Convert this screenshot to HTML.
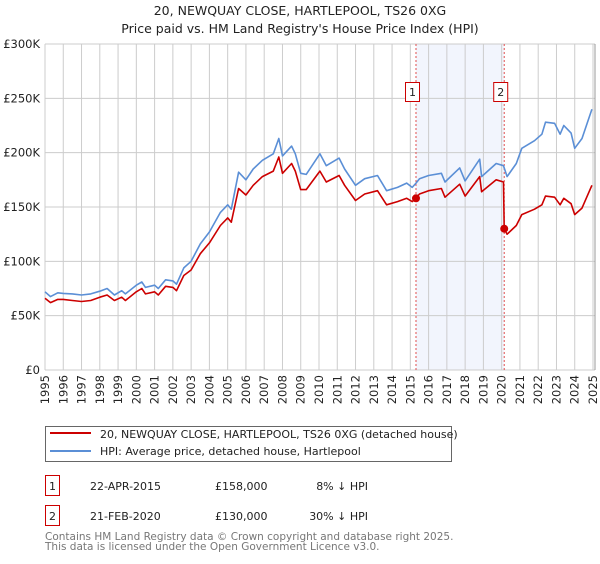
<!DOCTYPE html>
<html><head><meta charset="utf-8"><style>
body{margin:0;background:#fff;font-family:"DejaVu Sans","Liberation Sans",sans-serif;}
svg text{font-family:"DejaVu Sans","Liberation Sans",sans-serif;}
</style></head><body>
<svg id="chart" width="600" height="560" xmlns="http://www.w3.org/2000/svg">
<text x="300" y="15" text-anchor="middle" font-size="12.5" fill="#222">20, NEWQUAY CLOSE, HARTLEPOOL, TS26 0XG</text>
<text x="300" y="33" text-anchor="middle" font-size="12.5" fill="#222">Price paid vs. HM Land Registry's House Price Index (HPI)</text>
<g id="grid"></g><g id="series"></g><g id="axes"></g>
<g>
<rect x="45.5" y="426.5" width="406" height="35" fill="#fff" stroke="#666"/>
<line x1="50" y1="433" x2="91" y2="433" stroke="#cc0000" stroke-width="2"/>
<text x="100" y="438" font-size="11" fill="#222">20, NEWQUAY CLOSE, HARTLEPOOL, TS26 0XG (detached house)</text>
<line x1="50" y1="451" x2="91" y2="451" stroke="#5b8fd6" stroke-width="2"/>
<text x="100" y="455" font-size="11" fill="#222">HPI: Average price, detached house, Hartlepool</text>
</g>
<g font-size="11" fill="#222">
<rect x="45.5" y="475.5" width="14" height="20" fill="#fff" stroke="#cc0000"/>
<text x="52.5" y="490" text-anchor="middle">1</text>
<text x="90" y="490">22-APR-2015</text><text x="215" y="490">£158,000</text><text x="368" y="490" text-anchor="end">8% ↓ HPI</text>
<rect x="45.5" y="505.5" width="14" height="20" fill="#fff" stroke="#cc0000"/>
<text x="52.5" y="520" text-anchor="middle">2</text>
<text x="90" y="520">21-FEB-2020</text><text x="215" y="520">£130,000</text><text x="368" y="520" text-anchor="end">30% ↓ HPI</text>
</g>
<text x="45" y="540" font-size="10.5" fill="#777">Contains HM Land Registry data © Crown copyright and database right 2025.</text>
<text x="45" y="550" font-size="10.5" fill="#777">This data is licensed under the Open Government Licence v3.0.</text>
</svg>
<script>
const years=[1995,1995.3,1995.7,1996,1996.5,1997,1997.5,1998,1998.4,1998.8,1999.2,1999.4,2000,2000.3,2000.5,2001,2001.2,2001.6,2002,2002.2,2002.6,2003,2003.5,2004,2004.6,2005,2005.2,2005.6,2006,2006.4,2006.9,2007.5,2007.8,2008,2008.5,2008.7,2009,2009.3,2010.05,2010.4,2011.1,2011.4,2012,2012.5,2013.2,2013.7,2014.3,2014.8,2015.1,2015.3,2015.5,2016,2016.7,2016.9,2017.7,2018,2018.8,2018.9,2019.7,2020.1,2020.14,2020.3,2020.8,2021.1,2021.8,2022.2,2022.4,2022.9,2023.2,2023.4,2023.8,2024,2024.4,2024.94];
const hpiValues=[72,67.5,71,70.5,70,69,70,72.5,75,69,73,70,78,81,76,78,75,83,82,79,94,100,116,127,145,152,148,182,175,185,193,199,213,197,206,199,181,180,199,188,195,185,170,176,179,165,168,172,168,171.7,176,179,181,173,186,174,194,178,190,188,186,178,190,204,211,217,228,227,217,225,218,204,213,240];
const priceValues=[66,62,65,65,64,63,64,67,69,64,67,64,72,75,70,72,69,77,76,73,87,92,107,117,133,140,136,167,161,170,178,183,196,181,190,183,166,166,183,173,179,170,156,162,165,152,155,158,155,158,162,165,167,159,171,160,178,164,175,173,130,125,133,143,148,152,160,159,152,158,153,143,149,170];
const sales=[{n:"1",year:2015.31,value:158},{n:"2",year:2020.14,value:130}];
const yTicks=[0,50,100,150,200,250,300];
const yTickLabels=["£0","£50K","£100K","£150K","£200K","£250K","£300K"];
const xTicks=[1995,1996,1997,1998,1999,2000,2001,2002,2003,2004,2005,2006,2007,2008,2009,2010,2011,2012,2013,2014,2015,2016,2017,2018,2019,2020,2021,2022,2023,2024,2025];
const X0=45,X1=593,Y0=370,Y1=44;
function xs(y){return X0+(y-1995)/30*(X1-X0);}
function ys(v){return Y0-v/300*(Y0-Y1);}
const NS="http://www.w3.org/2000/svg";
function mk(tag,parent,attrs){const e=document.createElementNS(NS,tag);for(const k in attrs)e.setAttribute(k,attrs[k]);parent.appendChild(e);return e;}
const grid=document.getElementById('grid'),ser=document.getElementById('series'),ax=document.getElementById('axes');
const shade=mk('rect',grid,{x:xs(sales[0].year),y:Y1,width:xs(sales[1].year)-xs(sales[0].year),height:Y0-Y1,fill:'#eef2fc',opacity:0.75});


xTicks.forEach(t=>{
 const l=mk('line',grid,{x1:xs(t),x2:xs(t),y1:Y1,y2:Y0,stroke:'#ccc'});
 
 
 const tx=mk('text',ax,{x:0,y:0,'font-size':11.5,fill:'#222','text-anchor':'end',transform:`translate(${xs(t)+4},${Y0+5}) rotate(-90)`});
 tx.textContent=t;
 
 
});
yTicks.forEach((t,i)=>{
 const l=mk('line',grid,{x1:X0,x2:X1+2,y1:ys(t),y2:ys(t),stroke:'#ccc'});
 
 
 const tx=mk('text',ax,{x:X0-5,y:ys(t)+4,'font-size':11.5,fill:'#222','text-anchor':'end'});
 tx.textContent=yTickLabels[i];
 
 
});
mk('line',grid,{x1:X1+2,x2:X1+2,y1:Y1,y2:Y0,stroke:'#999'});
sales.forEach(s=>{
 const l=mk('line',grid,{x1:xs(s.year),x2:xs(s.year),y1:Y1,y2:Y0,stroke:'#e05050','stroke-dasharray':'2,2'});
 
 
});
function path(vals,color,name){
 const d=vals.map((v,i)=>(i?'L':'M')+xs(years[i]).toFixed(1)+','+ys(v).toFixed(1)).join('');
 const p=mk('path',ser,{d:d,fill:'none',stroke:color,'stroke-width':1.6,'stroke-linejoin':'round'});
 
 
}
path(hpiValues,'#5b8fd6','hpi-line');
path(priceValues,'#cc0000','price-paid-line');
sales.forEach(s=>{
 const c=mk('circle',ser,{cx:xs(s.year),cy:ys(s.value),r:4,fill:'#cc0000'});
 
 
 const g=mk('g',ser,{});
 
 
 mk('rect',g,{x:xs(s.year)-10.5,y:82.5,width:14,height:19,fill:'#fff',stroke:'#cc0000'});
 const t=mk('text',g,{x:xs(s.year)-3.5,y:96,'font-size':11,'text-anchor':'middle',fill:'#222'});
 t.textContent=s.n;
});
</script>
</body></html>
